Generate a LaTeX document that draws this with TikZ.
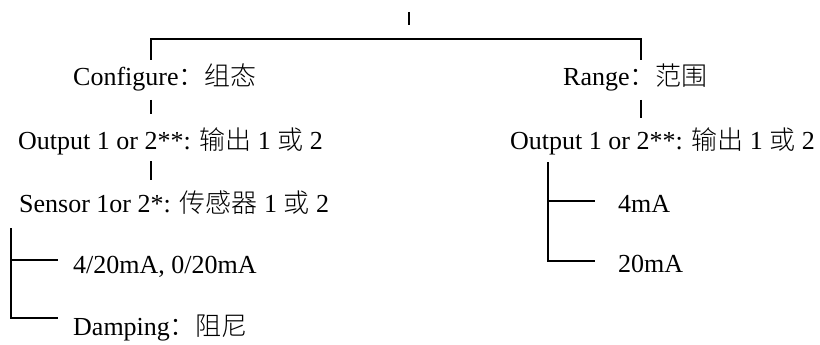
\documentclass[tikz,border=0pt]{standalone}
\usepackage{fontspec}
\setmainfont{Liberation Serif}
\newfontfamily\cjk{Noto Sans CJK SC}[UprightFont=* Light]
\begin{document}
\begin{tikzpicture}[x=1pt,y=-1pt,
    lbl/.style={anchor=base west, inner sep=0pt, font=\fontsize{26}{30}\selectfont},
    wire/.style={line width=1.6pt, line cap=butt}]
  \useasboundingbox (0,0) rectangle (820,345);

  % menu entries
  \node[lbl] (cfg)    at (73,85)   {Configure{\cjk ：组态}};
  \node[lbl] (outL)   at (18,149)  {Output 1 or 2**: {\cjk 输出} 1 {\cjk 或} 2};
  \node[lbl] (sen)    at (19,212)  {Sensor 1or 2*: {\cjk 传感器} 1 {\cjk 或} 2};
  \node[lbl] (ma)     at (73,273)  {4/20mA, 0/20mA};
  \node[lbl] (damp)   at (73,335)  {Damping{\cjk ：阻尼}};
  \node[lbl] (rng)    at (563,85)  {Range{\cjk ：范围}};
  \node[lbl] (outR)   at (510,149) {Output 1 or 2**: {\cjk 输出} 1 {\cjk 或} 2};
  \node[lbl] (four)   at (618,212) {4mA};
  \node[lbl] (twenty) at (618,272) {20mA};

  % junction points
  \coordinate (rootT) at (409,12);
  \coordinate (rootB) at (409,25);
  \coordinate (splitL) at (151,39);
  \coordinate (splitR) at (641,39);
  \coordinate (cfgT) at (151,60);
  \coordinate (cfgB) at (151,100);
  \coordinate (outLT) at (151,114);
  \coordinate (outLB) at (151,161);
  \coordinate (senT) at (151,180);
  \coordinate (senB) at (11,228);
  \coordinate (rngT) at (641,60);
  \coordinate (rngB) at (641,100);
  \coordinate (outRT) at (641,118);
  \coordinate (outRB) at (548,162);

  % tree connectors
  \draw[wire] (rootT) -- (rootB);
  \draw[wire] (cfgT) -- (splitL) -- (splitR) -- (rngT);
  \draw[wire] (cfgB) -- (outLT);
  \draw[wire] (outLB) -- (senT);
  \draw[wire] (senB) |- (58,318);
  \draw[wire] (senB |- 0,260) -- (58,260);
  \draw[wire] (rngB) -- (outRT);
  \draw[wire] (outRB) |- (595,261);
  \draw[wire] (outRB |- 0,201) -- (595,201);
\end{tikzpicture}
\end{document}
